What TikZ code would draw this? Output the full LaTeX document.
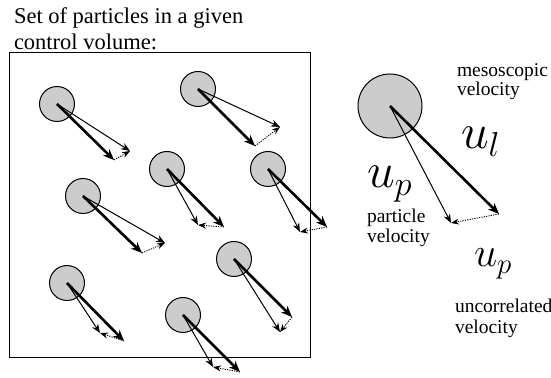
\documentclass[tikz,border=0pt]{standalone}
\usepackage{fontspec}
\setmainfont{Liberation Serif}
\usetikzlibrary{arrows.meta}

\begin{document}
\begin{tikzpicture}[
    x=0.5pt, y=-0.5pt,
    every node/.style={inner sep=0pt, outer sep=0pt},
    part/.style={circle, draw, fill=black!20, line width=0.5pt, minimum size=17.5pt},
    bigpart/.style={part, minimum size=32pt},
    meso/.style={line width=1.3pt, -{Stealth[length=5.5pt, width=4.5pt]}},
    partvel/.style={line width=0.5pt, -{Stealth[length=4.5pt, width=3.5pt]}},
    uncor/.style={line width=0.45pt, dash pattern=on 0.6pt off 0.6pt, -{Stealth[length=4pt, width=3pt]}},
    lbl/.style={font=\fontsize{9.75}{10}\selectfont, anchor=base west},
    title/.style={font=\fontsize{11.25}{13}\selectfont, anchor=base west, align=left},
]
\useasboundingbox (0,0) rectangle (551,378);
% Control volume
\node[title] (ttl) at (14,50) {Set of particles in a given\\control volume:};
\draw[line width=0.5pt] (9,53) rectangle (310,358);

% Particles: centre, mesoscopic tip (l), particle tip (q)
\node[part] (p1) at (57,104) {};  \coordinate (l1) at (114,160); \coordinate (q1) at (130,151);
\node[part] (p2) at (198,89) {};  \coordinate (l2) at (255,146); \coordinate (q2) at (280,127);
\node[part] (p3) at (167,169) {}; \coordinate (l3) at (224,227); \coordinate (q3) at (198,225);
\node[part] (p4) at (268,169) {}; \coordinate (l4) at (327,227); \coordinate (q4) at (300,232);
\node[part] (p5) at (83,196) {};  \coordinate (l5) at (142,253); \coordinate (q5) at (165,243);
\node[part] (p6) at (234,259) {}; \coordinate (l6) at (292,317); \coordinate (q6) at (280,332);
\node[part] (p7) at (67,283) {};  \coordinate (l7) at (124,341); \coordinate (q7) at (100,333);
\node[part] (p8) at (183,315) {}; \coordinate (l8) at (240,372); \coordinate (q8) at (213,367);

\draw[partvel] (p1.center) -- (q1); \draw[meso] (p1.center) -- (l1); \draw[uncor] (l1) -- (q1);
\draw[partvel] (p2.center) -- (q2); \draw[meso] (p2.center) -- (l2); \draw[uncor] (l2) -- (q2);
\draw[partvel] (p3.center) -- (q3); \draw[meso] (p3.center) -- (l3); \draw[uncor] (l3) -- (q3);
\draw[partvel] (p4.center) -- (q4); \draw[meso] (p4.center) -- (l4); \draw[uncor] (l4) -- (q4);
\draw[partvel] (p5.center) -- (q5); \draw[meso] (p5.center) -- (l5); \draw[uncor] (l5) -- (q5);
\draw[partvel] (p6.center) -- (q6); \draw[meso] (p6.center) -- (l6); \draw[uncor] (l6) -- (q6);
\draw[partvel] (p7.center) -- (q7); \draw[meso] (p7.center) -- (l7); \draw[uncor] (l7) -- (q7);
\draw[partvel] (p8.center) -- (q8); \draw[meso] (p8.center) -- (l8); \draw[uncor] (l8) -- (q8);

% Single particle with its velocities
\node[bigpart] (bp) at (390,106) {};
\coordinate (bl) at (499,214);
\coordinate (bq) at (451,223);
\draw[partvel] (bp.center) -- (bq);
\draw[meso] (bp.center) -- (bl);
\draw[uncor] (bl) -- (bq);

\node[lbl] (meso1) at (457,77) {mesoscopic};
\node[lbl] (meso2) at (457,96) {velocity};
\node[anchor=base west, font=\fontsize{26}{30}\selectfont] (ul) at (461,149) {$u_l$};
\node[anchor=base west, font=\fontsize{26}{30}\selectfont] (up) at (367,188) {$u_p$};
\node[lbl] (pv1) at (367,223) {particle};
\node[lbl] (pv2) at (367,243) {velocity};
\node[anchor=base west, font=\fontsize{22}{26}\selectfont] (upp) at (474,267) {$u_p$};
\node[lbl] (uv1) at (455,313) {uncorrelated};
\node[lbl] (uv2) at (455,334) {velocity};
\end{tikzpicture}
\end{document}
